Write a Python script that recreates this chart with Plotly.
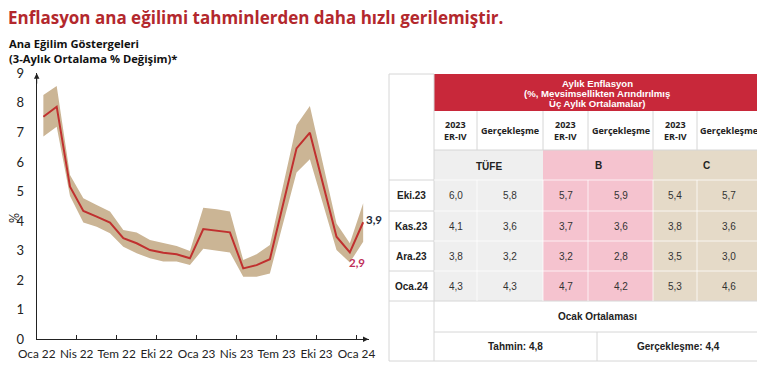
import plotly.graph_objects as go

W, H = 765, 375
OFF = 8  # page body margin in the browser

# ---------------- data ----------------
months = ["Oca 22", "Şub 22", "Mar 22", "Nis 22", "May 22", "Haz 22", "Tem 22", "Ağu 22",
          "Eyl 22", "Eki 22", "Kas 22", "Ara 22", "Oca 23", "Şub 23", "Mar 23", "Nis 23",
          "May 23", "Haz 23", "Tem 23", "Ağu 23", "Eyl 23", "Eki 23", "Kas 23", "Ara 23", "Oca 24"]
trend = [7.53, 7.87, 5.16, 4.34, 4.15, 3.95, 3.42, 3.25, 3.02, 2.93, 2.88, 2.74, 3.73, 3.68,
         3.62, 2.40, 2.51, 2.71, 4.60, 6.46, 6.99, 5.23, 3.47, 2.94, 3.96]
band_upper = [8.27, 8.57, 5.56, 4.77, 4.54, 4.32, 3.70, 3.61, 3.36, 3.27, 3.16, 2.99, 4.45, 4.40,
              4.32, 2.68, 2.88, 3.19, 5.22, 7.25, 7.89, 5.91, 3.92, 3.25, 4.60]
band_lower = [6.86, 7.19, 4.85, 3.95, 3.81, 3.59, 3.13, 2.91, 2.74, 2.63, 2.63, 2.51, 3.06, 3.00,
              2.94, 2.12, 2.12, 2.23, 3.93, 5.64, 6.09, 4.55, 3.02, 2.60, 3.30]
tick_labels = ["Oca 22", "Nis 22", "Tem 22", "Eki 22", "Oca 23", "Nis 23", "Tem 23", "Eki 23", "Oca 24"]
y_ticks = [0, 1, 2, 3, 4, 5, 6, 7, 8, 9]

table_rows = ["Eki.23", "Kas.23", "Ara.23", "Oca.24"]
tufe_er = ["6,0", "4,1", "3,8", "4,3"]
tufe_act = ["5,8", "3,6", "3,2", "4,3"]
b_er = ["5,7", "3,7", "3,2", "4,7"]
b_act = ["5,9", "3,6", "2,8", "4,2"]
c_er = ["5,4", "3,8", "3,5", "5,3"]
c_act = ["5,7", "3,6", "3,0", "4,6"]
groups = ["TÜFE", "B", "C"]
sub_headers = ["2023<br>ER-IV", "Gerçekleşme"]
header_text = "Aylık Enflasyon<br>(%, Mevsimsellikten Arındırılmış<br>Üç Aylık Ortalamalar)"
jan_title = "Ocak Ortalaması"
jan_forecast = "Tahmin: 4,8"
jan_actual = "Gerçekleşme: 4,4"

# ---------------- styles ----------------
RED_TITLE = "#b3282d"
LINE_RED = "#c0302f"
BAND = "#cbb595"
HDR_RED = "#c8283a"
GRAY_CELL = "#efefef"
PINK_CELL = "#f5c3cf"
TAN_CELL = "#e5dac8"
GRID = "#d6d6d6"
TXT = "#222222"

FW, FH = W - OFF, H - OFF


def px(x):
    return (x - OFF) / FW


def py(y):
    return 1 - (y - OFF) / FH


x_idx = list(range(len(months)))

fig = go.Figure()
fig.add_trace(go.Scatter(x=x_idx, y=band_lower, mode="lines", line=dict(width=0, color=BAND),
                         hoverinfo="skip", showlegend=False))
fig.add_trace(go.Scatter(x=x_idx, y=band_upper, mode="lines", line=dict(width=0, color=BAND),
                         fill="tonexty", fillcolor=BAND, hoverinfo="skip", showlegend=False))
fig.add_trace(go.Scatter(x=x_idx, y=trend, mode="lines", line=dict(width=2, color=LINE_RED),
                         showlegend=False, text=months))

# chart geometry (pixels in the page)
ax_left, ax_right = 36.7, 368.5
ay_top, ay_bot = 73.3, 339.3

tickvals = [i * 3 - 0.5 for i in range(len(tick_labels))]

fig.update_layout(
    width=FW, height=FH,
    margin=dict(l=0, r=0, t=0, b=0, autoexpand=False),
    paper_bgcolor="white", plot_bgcolor="white",
    font=dict(family="Lato", color=TXT),
    xaxis=dict(domain=[px(ax_left), px(ax_right)], range=[-0.5, 24.4], tickvals=tickvals,
               ticktext=tick_labels, showgrid=False, zeroline=False, showline=True,
               linecolor="#222", linewidth=1, ticks="inside", ticklen=4, tickcolor="#222",
               tickangle=0, automargin=False, ticklabelstandoff=4,
               tickfont=dict(family="Lato", size=11.8, color=TXT)),
    yaxis=dict(domain=[py(ay_bot), py(ay_top)], range=[0, 9], tickvals=y_ticks,
               showgrid=False, zeroline=False, showline=True, linecolor="#222", linewidth=1,
               ticks="", automargin=False,
               tickfont=dict(family="Lato", size=13, color=TXT), ticklabelstandoff=9),
)

ann = []
shapes = []

# axis arrows
ann.append(dict(x=-0.5, y=9.0, ax=-0.5, ay=8.6, xref="x", yref="y", axref="x", ayref="y",
                showarrow=True, arrowhead=2, arrowsize=1.1, arrowwidth=1, arrowcolor="#222", text=""))
ann.append(dict(x=24.4, y=0, ax=23.9, ay=0, xref="x", yref="y", axref="x", ayref="y",
                showarrow=True, arrowhead=2, arrowsize=1.1, arrowwidth=1, arrowcolor="#222", text=""))

# end labels
ann.append(dict(x=24, y=trend[24], xref="x", yref="y", text="<b>3,9</b>", showarrow=False,
                xanchor="left", yanchor="middle", xshift=1, yshift=3,
                font=dict(family="Lato", size=11.5, color="#1e2a38")))
ann.append(dict(x=23, y=trend[23], xref="x", yref="y", text="<b>2,9</b>", showarrow=False,
                xanchor="center", yanchor="top", xshift=7, yshift=-2,
                font=dict(family="Lato", size=11.5, color="#c0305a")))

# % axis title
ann.append(dict(x=px(14), y=py(218), xref="paper", yref="paper", text="%", textangle=-90,
                xanchor="center", yanchor="middle", borderpad=0,
                showarrow=False, font=dict(family="Lato", size=12.5, color=TXT)))

# titles
ann.append(dict(x=px(7), y=py(18), xref="paper", yref="paper", xanchor="left", yanchor="middle",
                text="<b>Enflasyon ana eğilimi tahminlerden daha hızlı gerilemiştir.</b>", showarrow=False,
                borderpad=0, font=dict(family="Open Sans", size=17, color=RED_TITLE)))
ann.append(dict(x=px(7), y=py(51), xref="paper", yref="paper", xanchor="left", yanchor="middle",
                text="<b>Ana Eğilim Göstergeleri</b><br><b>(3-Aylık Ortalama % Değişim)*</b>",
                showarrow=False, align="left",
                font=dict(family="Open Sans", size=11.2, color="#111")))

# ---------------- table ----------------
cx = [389, 434, 477, 543, 588, 653, 697, 760]
ry = [74, 111, 150, 180, 211, 241, 271, 301, 332, 361]


def rect(x0, y0, x1, y1, fill, line=None, lw=0):
    shapes.append(dict(type="rect", xref="paper", yref="paper", x0=px(x0), x1=px(x1),
                       y0=py(y1), y1=py(y0), fillcolor=fill,
                       line=dict(width=lw, color=line if line else fill), layer="below"))


def hline(x0, x1, y, color=GRID, w=1):
    shapes.append(dict(type="line", xref="paper", yref="paper", x0=px(x0), x1=px(x1),
                       y0=py(y), y1=py(y), line=dict(color=color, width=w), layer="below"))


def vline(x, y0, y1, color=GRID, w=1):
    shapes.append(dict(type="line", xref="paper", yref="paper", x0=px(x), x1=px(x),
                       y0=py(y0), y1=py(y1), line=dict(color=color, width=w), layer="below"))


def text(x, y, t, size=10, bold=False, color=TXT, family="Liberation Sans"):
    ann.append(dict(x=px(x), y=py(y), xref="paper", yref="paper", xanchor="center", yanchor="middle",
                    text=f"<b>{t}</b>" if bold else t, showarrow=False, align="center",
                    font=dict(family=family, size=size, color=color)))


# header red
rect(cx[1], ry[0], cx[7], ry[1], HDR_RED)
# group colored blocks (group row + data rows)
group_fills = [GRAY_CELL, PINK_CELL, TAN_CELL]
for g in range(3):
    rect(cx[1 + 2 * g], ry[2], cx[3 + 2 * g], ry[7], group_fills[g])

# white-area grid lines
hline(cx[0], cx[1], ry[0])
hline(cx[1], cx[7], ry[2])
for k in range(3, 8):
    hline(cx[0], cx[1], ry[k])
hline(cx[1], cx[7], ry[7])
hline(cx[1], cx[7], ry[8])
hline(cx[0], cx[7], ry[9])
vline(cx[0], ry[0], ry[9])
vline(cx[1], ry[0], ry[9])
vline(cx[7], ry[1], ry[9])
for c in range(2, 7):
    vline(cx[c], ry[1], ry[2])
vline((cx[1] + cx[7]) / 2, ry[8], ry[9])

# inner lines inside colored blocks (faint)
INNER = "rgba(255,255,255,0.75)"
for k in range(3, 7):
    hline(cx[1], cx[7], ry[k], color=INNER, w=1)
for c in range(2, 7):
    vline(cx[c], ry[3], ry[7], color=INNER, w=1)

# header text
hdr_lines = header_text.split("<br>")
for i, t in enumerate(hdr_lines):
    text((cx[1] + cx[7]) / 2, 83.5 + i * 10, t, size=9.6, bold=True, color="white")

# sub headers
for g in range(3):
    text((cx[1 + 2 * g] + cx[2 + 2 * g]) / 2, 130.5, sub_headers[0], size=9, bold=True, family="Open Sans")
    text((cx[2 + 2 * g] + cx[3 + 2 * g]) / 2, 130.5, sub_headers[1], size=9, bold=True, family="Open Sans")
    text((cx[1 + 2 * g] + cx[3 + 2 * g]) / 2, 165.5, groups[g], size=10, bold=True)

# data rows
cols = [tufe_er, tufe_act, b_er, b_act, c_er, c_act]
for r, lab in enumerate(table_rows):
    yc = (ry[3 + r] + ry[4 + r]) / 2
    text((cx[0] + cx[1]) / 2, yc, lab, size=10, bold=True)
    for c, vals in enumerate(cols):
        text((cx[1 + c] + cx[2 + c]) / 2, yc, vals[r], size=10, color="#333")

text((cx[1] + cx[7]) / 2, (ry[7] + ry[8]) / 2, jan_title, size=10, bold=True)
mid = (cx[1] + cx[7]) / 2
text((cx[1] + mid) / 2, (ry[8] + ry[9]) / 2, jan_forecast, size=10, bold=True)
text((mid + cx[7]) / 2, (ry[8] + ry[9]) / 2, jan_actual, size=10, bold=True)

fig.update_layout(annotations=ann, shapes=shapes)
fig.write_html("out.html")
